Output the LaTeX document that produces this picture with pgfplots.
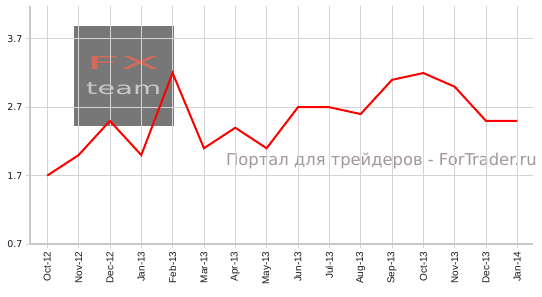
\documentclass[border=0pt]{standalone}
\usepackage{fontspec}
\setmainfont{DejaVu Sans}
\newfontfamily\arialf{Liberation Sans}
\usepackage{graphicx}
\usepackage{pgfplots}
\pgfplotsset{compat=1.18}
\definecolor{gridc}{HTML}{D4D4D4}
\definecolor{axc}{HTML}{C8C8C8}
\definecolor{boxc}{HTML}{777777}
\definecolor{fxc}{HTML}{D46A5A}
\definecolor{tmc}{HTML}{C8C8C8}
\definecolor{wmc}{HTML}{A39797}
\definecolor{ylab}{HTML}{1A1A2A}
\begin{document}
\begin{tikzpicture}[x=1bp,y=1bp]
\path[use as bounding box] (0,0) rectangle (542,296);
\fill[boxc] (74,170) rectangle (174,270);
\node[anchor=south west, inner sep=0pt, text=fxc] at (86,226) {\resizebox{74bp}{13bp}{\fontsize{18}{18}\selectfont FX}};
\node[anchor=south west, inner sep=0pt, text=tmc] at (86,201) {\resizebox{75bp}{12bp}{\fontsize{18}{18}\selectfont team}};
\node[anchor=base west, inner sep=0pt, text=wmc, font=\fontsize{16.4}{17}\selectfont] at (226,131) {Портал для трейдеров - ForTrader.ru};
\begin{axis}[
  at={(30bp,52bp)}, anchor=south west,
  scale only axis, width=503bp, height=238bp,
  xmin=-0.55, xmax=15.5, ymin=0.7, ymax=4.18,
  axis x line*=bottom, axis y line*=left,
  axis line style={draw=axc, line width=2.4bp},
  xtick={0,...,15},
  xticklabels={Oct-12,Nov-12,Dec-12,Jan-13,Feb-13,Mar-13,Apr-13,May-13,Jun-13,Jul-13,Aug-13,Sep-13,Oct-13,Nov-13,Dec-13,Jan-14},
  ytick={0.7,1.7,2.7,3.7},
  yticklabel style={/pgf/number format/fixed, /pgf/number format/precision=1, /pgf/number format/fixed zerofill},
  /pgf/number format/assume math mode=true,
  x tick label style={rotate=90, anchor=east, font=\arialf\fontsize{10}{11}\selectfont, color=black!90},
  y tick label style={font=\fontsize{9.5}{10}\selectfont, color=ylab},
  tick align=outside, major tick length=4bp,
  tick style={draw=gridc, line width=0.8bp},
  grid=major, major grid style={draw=gridc, line width=0.8bp},
  clip=false,
]
\addplot[red, line width=2bp] coordinates {
(0,1.7) (1,2.0) (2,2.5) (3,2.0) (4,3.2) (5,2.1) (6,2.4) (7,2.1) (8,2.7) (9,2.7) (10,2.6) (11,3.1) (12,3.2) (13,3.0) (14,2.5) (15,2.5)
};
\end{axis}
\end{tikzpicture}
\end{document}
